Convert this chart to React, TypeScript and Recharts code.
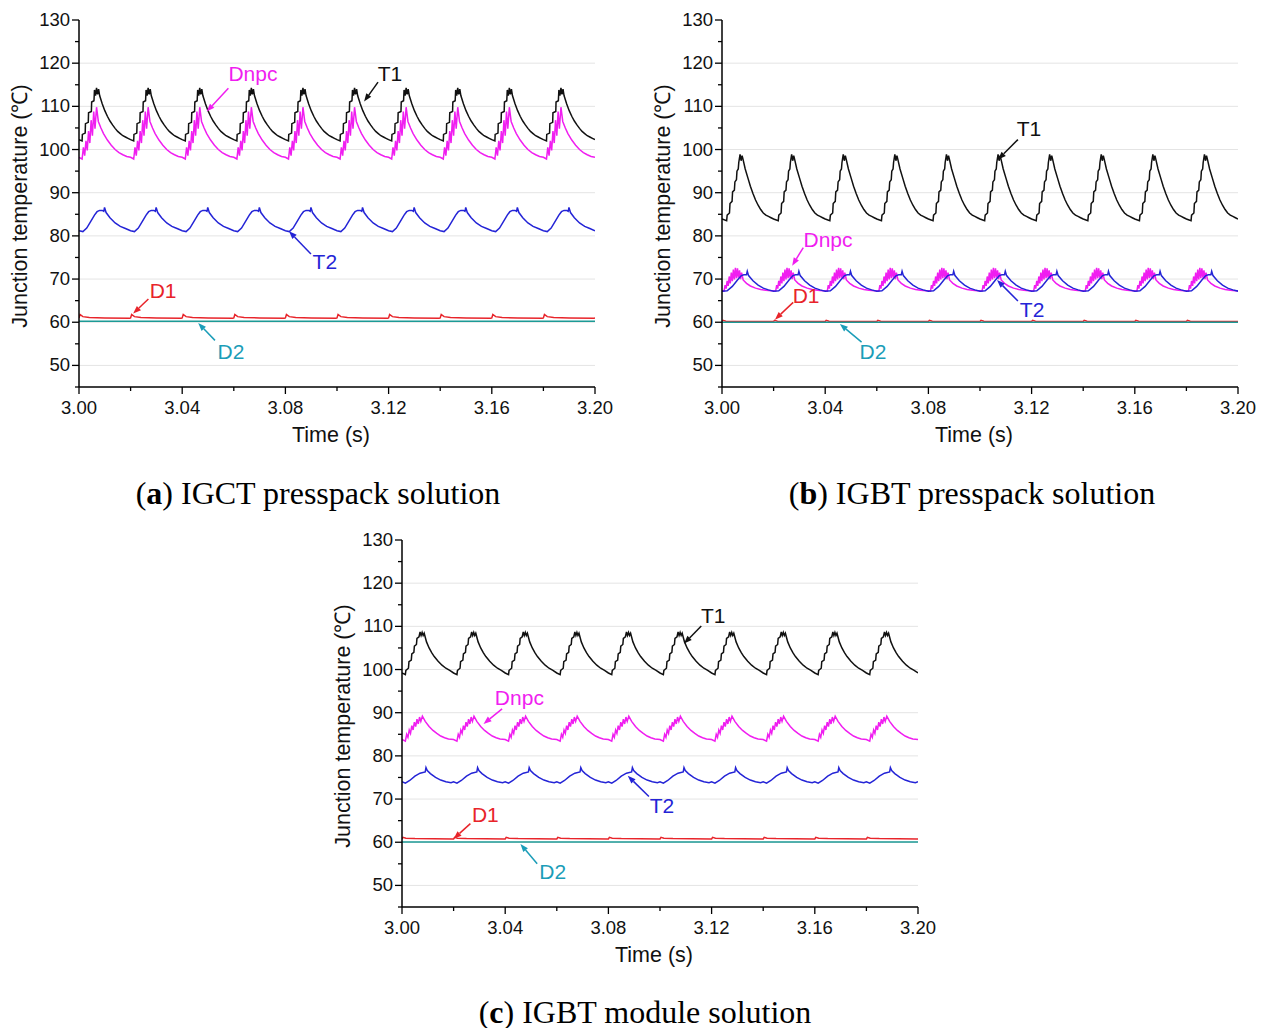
import { LineChart, Line, XAxis, YAxis, ReferenceLine, ReferenceDot } from 'recharts'

// one 20 ms switching period: [ms into period, °C]
type Pt = [number, number]

// (a) IGCT presspack
const igctT1: Pt[] = [
  [0, 102.3], [1.2, 102.0], [1.3, 103.5], [2.4, 103.8], [2.5, 106.0], [3.6, 106.3], [3.7, 108.5],
  [4.8, 108.8], [4.9, 111.0], [5.8, 111.3], [6.0, 113.8], [6.4, 112.5], [6.8, 114.3], [7.2, 112.8],
  [7.6, 114.0], [8.0, 112.5], [9, 110.6], [10, 109.0], [11, 107.7], [12, 106.6], [13, 105.7],
  [14, 104.9], [15, 104.2], [16, 103.7], [17, 103.2], [18, 102.9], [19, 102.6],
]
const igctDnpc: Pt[] = [
  [0, 98.2], [1.2, 97.8], [1.7, 100.5], [2.2, 98.6], [2.7, 102.0], [3.2, 99.8], [3.7, 104.3],
  [4.2, 101.5], [4.7, 106.8], [5.2, 103.2], [5.7, 108.8], [6.2, 104.8], [6.8, 109.8], [7.5, 106.5],
  [8.5, 105.0], [9.5, 103.7], [11, 102.2], [12.5, 101.0], [14, 100.0], [15.5, 99.3], [17, 98.8],
  [18.5, 98.4],
]
const igctT2: Pt[] = [
  [0, 81.2], [1.5, 81.0], [3, 81.8], [4.5, 83.3], [6, 84.8], [7, 85.6], [8, 85.9], [9, 85.9],
  [9.6, 85.7], [9.9, 86.6], [10.5, 85.4], [12, 84.2], [14, 83.0], [16, 82.2], [18, 81.7],
]
const igctD1: Pt[] = [[0, 61.0], [0.4, 61.8], [1.5, 61.3], [4, 61.1], [10, 61.0], [19.6, 60.95]]
const igctD2: Pt[] = [[0, 60.2], [10, 60.2]]

// (b) IGBT presspack
const pressT1: Pt[] = [
  [0, 83.9], [1.8, 83.5], [2.0, 84.8], [2.9, 85.3], [3.1, 87.5], [3.9, 88.0], [4.1, 90.2],
  [4.8, 90.6], [5.0, 92.5], [5.6, 93.0], [5.8, 95.0], [6.3, 95.5], [6.5, 97.0], [7.0, 98.9],
  [7.4, 97.4], [7.8, 98.6], [8.2, 97.6], [9, 95.5], [10, 93.5], [11, 91.5], [12, 89.8],
  [13, 88.3], [14, 87.1], [15, 86.1], [16, 85.3], [17, 84.8], [18, 84.5], [19, 84.2],
]
const pressDnpc: Pt[] = [
  [0, 67.3], [0.8, 67.2], [1.2, 68.6], [1.6, 67.8], [2.0, 69.6], [2.4, 68.4], [2.8, 70.6],
  [3.2, 69.0], [3.6, 71.5], [4.0, 69.5], [4.4, 72.2], [4.8, 69.9], [5.2, 72.6], [5.6, 70.2],
  [6.0, 72.5], [6.4, 70.3], [6.8, 72.0], [7.2, 70.0], [7.6, 71.5], [8.2, 69.8], [9.5, 69.0],
  [11, 68.4], [13, 67.9], [15, 67.6], [17, 67.4], [19, 67.3],
]
const pressT2: Pt[] = [
  [0, 67.2], [2, 67.3], [4, 68.3], [6, 69.8], [7.5, 70.8], [8.5, 71.0], [9.5, 71.0], [9.8, 71.8],
  [10.3, 70.8], [12, 69.6], [14, 68.6], [16, 67.9], [18, 67.5],
]
const pressD1: Pt[] = [[0, 60.15], [0.4, 60.45], [1.5, 60.25], [8, 60.15]]
const pressD2: Pt[] = [[0, 60.0], [10, 60.0]]

// (c) IGBT module
const modT1: Pt[] = [
  [0, 99.2], [1.3, 98.8], [1.5, 99.8], [2.5, 100.3], [2.7, 101.8], [3.6, 102.2], [3.8, 103.6],
  [4.6, 104.0], [4.8, 105.4], [5.6, 105.8], [5.8, 107.2], [6.6, 107.6], [7.0, 108.7], [7.4, 107.9],
  [7.8, 108.6], [8.2, 107.9], [8.6, 108.4], [9.5, 106.4], [10.5, 105.0], [11.5, 103.9],
  [12.5, 103.0], [14, 101.9], [15.5, 101.0], [17, 100.3], [18.5, 99.8],
]
const modDnpc: Pt[] = [
  [0, 83.8], [1.3, 83.4], [1.8, 85.0], [2.3, 84.3], [2.8, 86.0], [3.3, 85.2], [3.8, 87.0],
  [4.3, 86.0], [4.8, 87.8], [5.3, 86.8], [5.8, 88.5], [6.3, 87.4], [6.8, 89.0], [7.3, 88.0],
  [7.9, 89.2], [9, 88.0], [10.5, 86.8], [12, 85.9], [13.5, 85.2], [15, 84.6], [16.5, 84.2],
  [18, 83.9],
]
const modT2: Pt[] = [
  [0, 74.0], [1.3, 73.7], [3, 74.3], [5, 75.3], [7, 76.0], [9, 76.3], [9.3, 77.3], [9.8, 76.6],
  [11, 75.9], [13, 75.0], [15, 74.4], [17, 74.0], [19, 73.8],
]
const modD1: Pt[] = [[0, 60.75], [0.4, 61.15], [1.5, 60.95], [5, 60.85], [19.6, 60.75]]
const modD2: Pt[] = [[0, 60.05], [10, 60.05]]

const xTicks = [3.0, 3.02, 3.04, 3.06, 3.08, 3.1, 3.12, 3.14, 3.16, 3.18, 3.2]
const yTicks = [45, 50, 55, 60, 65, 70, 75, 80, 85, 90, 95, 100, 105, 110, 115, 120, 125, 130]
const gridValues = [50, 60, 70, 80, 90, 100, 110, 120]

const BLACK = '#111111'
const MAGENTA = '#f01ef0'
const BLUE = '#2424d6'
const RED = '#e8242a'
const TEAL = '#1c9a96'
const CYAN = '#1b9db8'

// label text position, arrow start, arrow tip (data coords)
type Note = { name: string; color: string; text: Pt; from: Pt; to: Pt }

const igctNotes: Note[] = [
  { name: 'T1', color: BLACK, text: [3.1205, 117.5], from: [3.1159, 115.6], to: [3.1105, 111.1] },
  { name: 'Dnpc', color: MAGENTA, text: [3.0674, 117.5], from: [3.0579, 114.2], to: [3.0495, 108.8] },
  { name: 'T2', color: BLUE, text: [3.0953, 73.9], from: [3.0899, 75.8], to: [3.0814, 81.1] },
  { name: 'D1', color: RED, text: [3.0326, 67.2], from: [3.0269, 65.4], to: [3.021, 62.0] },
  { name: 'D2', color: CYAN, text: [3.0589, 53.2], from: [3.0527, 55.8], to: [3.0462, 59.8] },
]
const pressNotes: Note[] = [
  { name: 'T1', color: BLACK, text: [3.119, 104.8], from: [3.1147, 102.3], to: [3.107, 97.7] },
  { name: 'Dnpc', color: MAGENTA, text: [3.0411, 79.0], from: [3.0315, 77.3], to: [3.0272, 73.1] },
  { name: 'T2', color: BLUE, text: [3.1202, 62.8], from: [3.1147, 64.9], to: [3.1066, 69.8] },
  { name: 'D1', color: RED, text: [3.0326, 66.1], from: [3.0276, 64.6], to: [3.0205, 60.6] },
  { name: 'D2', color: CYAN, text: [3.0585, 53.2], from: [3.0541, 55.4], to: [3.0457, 59.6] },
]
const modNotes: Note[] = [
  { name: 'T1', color: BLACK, text: [3.1206, 112.4], from: [3.116, 110.1], to: [3.1093, 106.0] },
  { name: 'Dnpc', color: MAGENTA, text: [3.0455, 93.5], from: [3.0388, 90.9], to: [3.0316, 87.4] },
  { name: 'T2', color: BLUE, text: [3.1008, 68.5], from: [3.0957, 70.6], to: [3.0875, 75.4] },
  { name: 'D1', color: RED, text: [3.0323, 66.4], from: [3.0265, 64.3], to: [3.02, 60.8] },
  { name: 'D2', color: CYAN, text: [3.0584, 53.0], from: [3.0524, 55.0], to: [3.0459, 59.6] },
]

function tile(cycle: Pt[]) {
  const out: { t: number; v: number }[] = []
  for (let k = 0; k < 10; k++) {
    for (const [dt, v] of cycle) out.push({ t: 3 + (k * 20 + dt) / 1000, v })
  }
  out.push({ t: 3.2, v: cycle[0][1] })
  return out
}

const TICK_FONT = '"Liberation Sans", Arial, sans-serif'

function XTick(props: any) {
  const { x, y, payload } = props
  const major = Math.round(payload.value * 100) % 4 === 0
  return (
    <g>
      <line x1={x} x2={x} y1={y} y2={y + (major ? 7 : 4)} stroke="#000" strokeWidth={1.3} />
      {major && (
        <text x={x} y={y + 27} textAnchor="middle" fontSize={18.5} fontFamily={TICK_FONT} fill="#111">
          {payload.value.toFixed(2)}
        </text>
      )}
    </g>
  )
}

function YTick(props: any) {
  const { x, y, payload } = props
  const major = payload.value % 10 === 0
  return (
    <g>
      <line x1={x} x2={x - (major ? 7 : 4)} y1={y} y2={y} stroke="#000" strokeWidth={1.3} />
      {major && (
        <text x={x - 9} y={y + 6} textAnchor="end" fontSize={18.5} fontFamily={TICK_FONT} fill="#111">
          {payload.value}
        </text>
      )}
    </g>
  )
}

function arrow(color: string) {
  return (p: any) => {
    const { x1, y1, x2, y2 } = p
    const a = Math.atan2(y2 - y1, x2 - x1)
    const len = 8
    const w = 3
    const bx = x2 - len * Math.cos(a)
    const by = y2 - len * Math.sin(a)
    const pts = `${x2},${y2} ${bx - w * Math.sin(a)},${by + w * Math.cos(a)} ${bx + w * Math.sin(a)},${by - w * Math.cos(a)}`
    return (
      <g>
        <line x1={x1} y1={y1} x2={bx} y2={by} stroke={color} strokeWidth={1.5} />
        <polygon points={pts} fill={color} />
      </g>
    )
  }
}

function noteText(name: string, color: string) {
  return (p: any) => (
    <text x={p.cx} y={p.cy + 7} textAnchor="middle" fontSize={21} fontFamily={TICK_FONT} fill={color}>
      {name}
    </text>
  )
}

type Series = { name: string; color: string; cycle: Pt[] }

function Panel({ series, notes }: { series: Series[]; notes: Note[] }) {
  return (
    <div style={{ position: 'relative', width: 620, height: 460 }}>
      <LineChart width={620} height={460} margin={{ top: 20, right: 25, bottom: 13, left: 19 }}>
        {gridValues.map((v) => (
          <ReferenceLine key={v} y={v} stroke="#e4e4e4" strokeWidth={1} />
        ))}
        <XAxis
          type="number"
          dataKey="t"
          domain={[3, 3.2]}
          ticks={xTicks}
          interval={0}
          height={60}
          tickSize={0}
          tickMargin={0}
          tickLine={false}
          tick={<XTick />}
          axisLine={{ stroke: '#000', strokeWidth: 1.5 }}
          allowDataOverflow
        />
        <YAxis
          type="number"
          domain={[45, 130]}
          ticks={yTicks}
          interval={0}
          width={60}
          tickSize={0}
          tickMargin={0}
          tickLine={false}
          tick={<YTick />}
          axisLine={{ stroke: '#000', strokeWidth: 1.5 }}
          allowDataOverflow
        />
        {series.map((s) => (
          <Line
            key={s.name}
            data={tile(s.cycle)}
            dataKey="v"
            type="linear"
            stroke={s.color}
            strokeWidth={1.5}
            dot={false}
            activeDot={false}
            isAnimationActive={false}
          />
        ))}
        {notes.map((n) => (
          <ReferenceLine
            key={'a' + n.name}
            segment={[{ x: n.from[0], y: n.from[1] }, { x: n.to[0], y: n.to[1] }]}
            stroke={n.color}
            shape={arrow(n.color)}
          />
        ))}
        {notes.map((n) => (
          <ReferenceDot key={'t' + n.name} x={n.text[0]} y={n.text[1]} r={0} shape={noteText(n.name, n.color)} />
        ))}
      </LineChart>
      <div
        style={{
          position: 'absolute', left: 18, top: 206, transform: 'translate(-50%, -50%) rotate(-90deg)',
          whiteSpace: 'nowrap', fontFamily: TICK_FONT, fontSize: 21.5, color: '#111',
        }}
      >
        Junction temperature (℃)
      </div>
      <div
        style={{
          position: 'absolute', left: 331, top: 435, transform: 'translate(-50%, -50%)',
          whiteSpace: 'nowrap', fontFamily: TICK_FONT, fontSize: 21.5, color: '#111',
        }}
      >
        Time (s)
      </div>
    </div>
  )
}

const captionStyle = {
  position: 'absolute' as const,
  transform: 'translate(-50%, -50%)',
  whiteSpace: 'nowrap' as const,
  fontFamily: '"Liberation Serif", "Times New Roman", serif',
  fontSize: 32,
  color: '#000',
}

export default function App() {
  return (
    <div style={{ position: 'absolute', left: 0, top: 0, width: 1266, height: 1028, background: '#fff' }}>
      <div style={{ position: 'absolute', left: 0, top: 0 }}>
        <Panel
          series={[
            { name: 'Dnpc', color: MAGENTA, cycle: igctDnpc },
            { name: 'T1', color: BLACK, cycle: igctT1 },
            { name: 'T2', color: BLUE, cycle: igctT2 },
            { name: 'D2', color: TEAL, cycle: igctD2 },
            { name: 'D1', color: RED, cycle: igctD1 },
          ]}
          notes={igctNotes}
        />
      </div>
      <div style={{ position: 'absolute', left: 643, top: 0 }}>
        <Panel
          series={[
            { name: 'T1', color: BLACK, cycle: pressT1 },
            { name: 'Dnpc', color: MAGENTA, cycle: pressDnpc },
            { name: 'T2', color: BLUE, cycle: pressT2 },
            { name: 'D1', color: RED, cycle: pressD1 },
            { name: 'D2', color: TEAL, cycle: pressD2 },
          ]}
          notes={pressNotes}
        />
      </div>
      <div style={{ position: 'absolute', left: 323, top: 520 }}>
        <Panel
          series={[
            { name: 'T1', color: BLACK, cycle: modT1 },
            { name: 'Dnpc', color: MAGENTA, cycle: modDnpc },
            { name: 'T2', color: BLUE, cycle: modT2 },
            { name: 'D1', color: RED, cycle: modD1 },
            { name: 'D2', color: TEAL, cycle: modD2 },
          ]}
          notes={modNotes}
        />
      </div>
      <div style={{ ...captionStyle, left: 318, top: 493 }}>
        (<b>a</b>) IGCT presspack solution
      </div>
      <div style={{ ...captionStyle, left: 972, top: 493 }}>
        (<b>b</b>) IGBT presspack solution
      </div>
      <div style={{ ...captionStyle, left: 645, top: 1012 }}>
        (<b>c</b>) IGBT module solution
      </div>
    </div>
  )
}
